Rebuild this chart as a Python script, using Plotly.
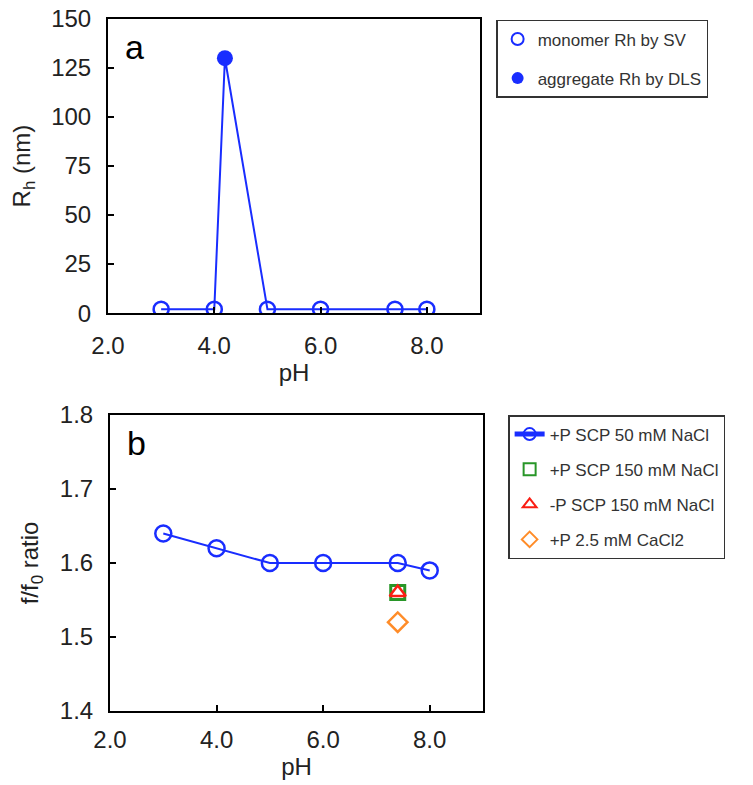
import plotly.graph_objects as go

# ---- Panel a data ----
ph_mono = [3.0, 4.0, 5.0, 6.0, 7.4, 8.0]
rh_mono = [2, 2, 2, 2, 2, 2]
ph_agg = [4.2]
rh_agg = [130]

# ---- Panel b data ----
ph_b = [3.0, 4.0, 5.0, 6.0, 7.4, 8.0]
ff0_p50 = [1.64, 1.62, 1.60, 1.60, 1.60, 1.59]
ph_p150 = [7.4]
ff0_p150 = [1.56]
ph_m150 = [7.4]
ff0_m150 = [1.56]
ph_ca = [7.4]
ff0_ca = [1.52]

tick_labels = ["2.0", "4.0", "6.0", "8.0"]
tick_pos = [2, 4, 6, 8]

BLUE = "rgb(25,45,255)"
FONT = "Liberation Sans, Arial, Helvetica, sans-serif"

# combined line for panel a (monomer + aggregate, sorted by pH)
pts = sorted(list(zip(ph_mono, rh_mono)) + list(zip(ph_agg, rh_agg)))
line_x = [p[0] for p in pts]
line_y = [p[1] for p in pts]

fig = go.Figure()

fig.add_trace(go.Scatter(x=line_x, y=line_y, mode="lines",
                         line=dict(color=BLUE, width=2), showlegend=False,
                         xaxis="x", yaxis="y", hoverinfo="skip"))
fig.add_trace(go.Scatter(x=ph_mono, y=rh_mono, mode="markers", name="monomer Rh by SV",
                         marker=dict(symbol="circle-open", size=15, color=BLUE, line=dict(width=2.5)),
                         xaxis="x", yaxis="y", legend="legend", legendgroup="a1"))
fig.add_trace(go.Scatter(x=ph_agg, y=rh_agg, mode="markers", name="aggregate Rh by DLS",
                         marker=dict(symbol="circle", size=16, color=BLUE),
                         xaxis="x", yaxis="y", legend="legend", legendgroup="a2"))

fig.add_trace(go.Scatter(x=ph_b, y=ff0_p50, mode="lines+markers", name="+P SCP 50 mM NaCl",
                         line=dict(color=BLUE, width=2),
                         marker=dict(symbol="circle-open", size=16, color=BLUE, line=dict(width=2.5)),
                         xaxis="x2", yaxis="y2", legend="legend2", legendgroup="b1"))
fig.add_trace(go.Scatter(x=ph_p150, y=ff0_p150, mode="markers", name="+P SCP 150 mM NaCl",
                         marker=dict(symbol="square-open", size=14, color="rgb(40,150,40)", line=dict(width=3)),
                         xaxis="x2", yaxis="y2", legend="legend2", legendgroup="b2"))
fig.add_trace(go.Scatter(x=ph_m150, y=ff0_m150, mode="markers", name="-P SCP 150 mM NaCl",
                         marker=dict(symbol="triangle-up-open", size=14, color="rgb(250,30,20)", line=dict(width=2.5)),
                         xaxis="x2", yaxis="y2", legend="legend2", legendgroup="b3"))
fig.add_trace(go.Scatter(x=ph_ca, y=ff0_ca, mode="markers", name="+P 2.5 mM CaCl2",
                         marker=dict(symbol="diamond-open", size=15, color="rgb(255,140,40)", line=dict(width=2.5)),
                         xaxis="x2", yaxis="y2", legend="legend2", legendgroup="b4"))

axis_common = dict(showline=True, mirror=True, linecolor="black", linewidth=2,
                   ticks="inside", ticklen=6, tickwidth=2, tickcolor="black",
                   showgrid=False, zeroline=False, automargin=False,
                   ticklabeloverflow="allow",
                   tickfont=dict(family=FONT, size=24, color="#222"),
                   title_font=dict(family=FONT, size=24, color="#222"))

fig.update_layout(
    width=753, height=785,
    margin=dict(l=108, r=270, t=19, b=74),
    plot_bgcolor="white", paper_bgcolor="white",
    font=dict(family=FONT, color="#222"),
    xaxis=dict(domain=[0, 372/375], range=[2, 9], tickvals=tick_pos, ticktext=tick_labels,
               anchor="y", title=dict(text="pH", standoff=2), ticklabelstandoff=10, **axis_common),
    yaxis=dict(domain=[0.575, 1.0], range=[0, 150], dtick=25, anchor="x",
               title=dict(text="R<sub>h</sub> (nm)", standoff=14), ticklabelstandoff=10, **axis_common),
    xaxis2=dict(domain=[2/375, 1], range=[2, 9], tickvals=tick_pos, ticktext=tick_labels,
                anchor="y2", title=dict(text="pH", standoff=0), ticklabelstandoff=6, **axis_common),
    yaxis2=dict(domain=[0, 0.4277], range=[1.4, 1.8], dtick=0.1, tickformat=".1f", anchor="x2",
                title=dict(text="f/f<sub>0</sub> ratio", standoff=14), ticklabelstandoff=10, **axis_common),
    legend=dict(x=1.035, y=0.9986, xanchor="left", yanchor="top", bordercolor="#333",
                borderwidth=1.5, font=dict(family=FONT, size=17, color="#333"), bgcolor="white",
                tracegroupgap=14, itemsizing="constant"),
    legend2=dict(x=1.067, y=0.4277, xanchor="left", yanchor="top", bordercolor="#333",
                 borderwidth=1.5, font=dict(family=FONT, size=17, color="#333"), bgcolor="white",
                 tracegroupgap=10, itemsizing="constant"),
    annotations=[
        dict(text="a", xref="x domain", yref="y domain", x=0.072, y=0.975, xanchor="center", yanchor="top",
             showarrow=False, font=dict(family=FONT, size=34, color="black")),
        dict(text="b", xref="x2 domain", yref="y2 domain", x=0.072, y=0.975, xanchor="center", yanchor="top",
             showarrow=False, font=dict(family=FONT, size=34, color="black")),
    ],
)

fig.write_html("out.html", config={"displayModeBar": False},
               post_script="document.body.style.margin='0';document.body.style.overflow='hidden';")
